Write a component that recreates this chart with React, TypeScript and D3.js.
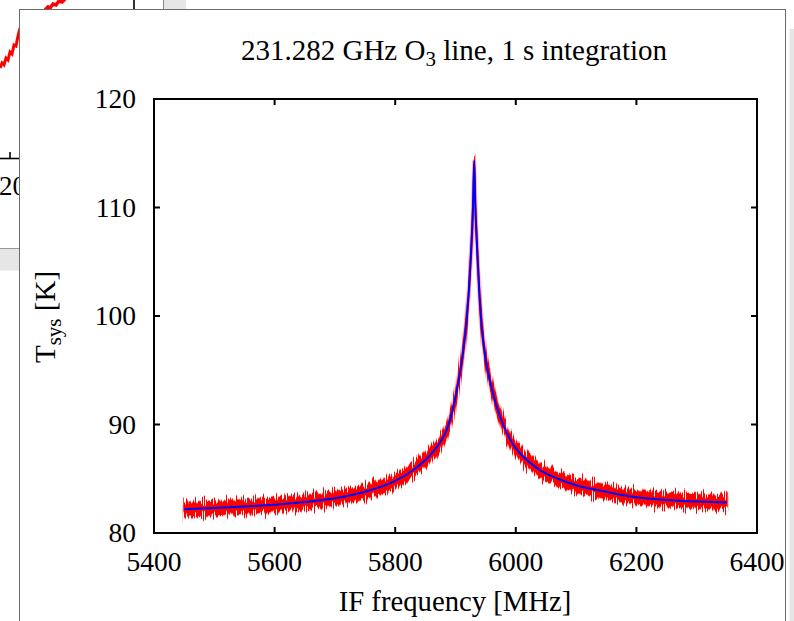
import React from 'react';
import * as d3 from 'd3';

// ---- data ----
const freqMHz = [5450, 5500, 5550, 5600, 5650, 5700, 5750, 5800, 5830, 5855, 5875, 5886, 5896, 5905, 5912, 5919, 5925, 5929, 5931, 5933, 5937, 5942, 5950, 5959, 5968, 5979, 5995, 6013, 6040, 6070, 6100, 6150, 6200, 6250, 6300, 6350];
const fitK = [82.2, 82.3, 82.45, 82.6, 82.85, 83.2, 83.8, 84.8, 85.8, 87.0, 88.4, 89.6, 91.5, 94.0, 96.5, 100.0, 105.0, 110.0, 114.3, 110.0, 105.0, 100.0, 96.0, 93.6, 91.7, 90.0, 88.2, 87.0, 85.8, 85.0, 84.4, 83.8, 83.3, 83.05, 82.9, 82.8];
const noiseHiK = [82.8, 82.9, 83.05, 83.2, 83.45, 83.8, 84.4, 85.4, 86.4, 87.6, 89.0, 90.2, 92.1, 94.6, 97.1, 100.6, 105.6, 110.6, 114.6, 110.6, 105.6, 100.6, 96.6, 94.2, 92.3, 90.6, 88.8, 87.6, 86.4, 85.6, 85.0, 84.4, 83.9, 83.65, 83.5, 83.4];
const noiseLoK = [81.6, 81.7, 81.85, 82.0, 82.25, 82.6, 83.2, 84.2, 85.2, 86.4, 87.8, 89.0, 90.9, 93.4, 95.9, 99.4, 104.4, 109.4, 114.0, 109.4, 104.4, 99.4, 95.4, 93.0, 91.1, 89.4, 87.6, 86.4, 85.2, 84.4, 83.8, 83.2, 82.7, 82.45, 82.3, 82.2];
const xTicks = [5400, 5600, 5800, 6000, 6200, 6400];
const yTicks = [80, 90, 100, 110, 120];

// background window's line (partly hidden behind the front panel)
const bgLineA: [number, number][] = [[0, 68], [2, 63], [4, 65], [6, 58], [8, 60], [10, 52], [12, 54], [14, 45], [16, 46], [18, 36], [20, 28]];
const bgLineB: [number, number][] = [[45, 10], [48, 7], [50, 8], [53, 4], [56, 5], [59, 1], [62, 2], [66, -2]];

const FONT = "'Liberation Serif', 'DejaVu Serif', serif";

export default function App() {
  const W = 794, H = 621;
  const x = d3.scaleLinear().domain([5400, 6400]).range([154, 757]);
  const y = d3.scaleLinear().domain([80, 120]).range([533, 99]);
  const [x0, x1] = x.range();
  const [y0, y1] = y.range();

  const idx = d3.range(freqMHz.length);
  const band = d3.area<number>()
    .x(i => x(freqMHz[i]))
    .y0(i => y(noiseLoK[i]))
    .y1(i => y(noiseHiK[i]))
    .curve(d3.curveMonotoneX);
  const fitLine = d3.line<number>()
    .x(i => x(freqMHz[i]))
    .y(i => y(fitK[i]))
    .curve(d3.curveMonotoneX);
  const bgLine = d3.line();
  const bandPath = band(idx) || '';

  const tickLen = 6;

  return (
    <svg width={W} height={H} style={{ position: 'fixed', left: 0, top: 0, background: '#fff' }} fontFamily={FONT}>
      <defs>
        <filter id="jitter" filterUnits="userSpaceOnUse" x={0} y={60} width={W} height={520} colorInterpolationFilters="sRGB">
          <feTurbulence type="fractalNoise" baseFrequency="0.9 0.004" numOctaves={2} seed={3} result="n" />
          <feColorMatrix in="n" type="matrix" values="1 0 0 0 0  0 0 0 0 0.5  0 0 0 0 0  0 0 0 0 1" result="n2" />
          <feDisplacementMap in="SourceGraphic" in2="n2" scale={22} xChannelSelector="G" yChannelSelector="R" />
        </filter>
        <mask id="outerMask" maskUnits="userSpaceOnUse" x={0} y={0} width={W} height={H}>
          <path d={bandPath} fill="#fff" stroke="#fff" strokeWidth={3.5} filter="url(#jitter)" />
        </mask>
        <mask id="innerMask" maskUnits="userSpaceOnUse" x={0} y={0} width={W} height={H}>
          <path d={bandPath} fill="#fff" stroke="#fff" strokeWidth={1.5} filter="url(#jitter)" />
        </mask>
        <clipPath id="plotClip"><rect x={x0} y={y1} width={x1 - x0} height={y0 - y1} /></clipPath>
      </defs>

      {/* background window remnants */}
      <rect x={163} y={0} width={23} height={9} fill="#e6e6e6" />
      <line x1={163.5} y1={0} x2={163.5} y2={9} stroke="#8a8a8a" strokeWidth={1} />
      <line x1={134} y1={0} x2={134} y2={9} stroke="#000" strokeWidth={1.6} />
      <path d={bgLine(bgLineA) || ''} fill="none" stroke="#ff0000" strokeWidth={3} />
      <path d={bgLine(bgLineB) || ''} fill="none" stroke="#ff0000" strokeWidth={3.5} />
      <line x1={0} y1={158.5} x2={20} y2={158.5} stroke="#000" strokeWidth={1.6} />
      <line x1={10} y1={152} x2={10} y2={158.5} stroke="#000" strokeWidth={1.6} />
      <text x={-1} y={195} fontSize={27}>200</text>
      <rect x={0} y={248.5} width={20} height={22} fill="#e6e6e6" />
      <line x1={0} y1={248.5} x2={20} y2={248.5} stroke="#9a9a9a" strokeWidth={1} />
      <rect x={789.5} y={29} width={6} height={600} fill="#e6e6e6" />

      {/* front panel */}
      <rect x={19.5} y={9.5} width={766} height={640} fill="#fff" stroke="#6a6a6a" strokeWidth={1} />

      {/* title */}
      <text x={454} y={60} fontSize={29} textAnchor="middle">
        231.282 GHz O<tspan fontSize={21} dy={6}>3</tspan><tspan dy={-6}> line, 1 s integration</tspan>
      </text>

      {/* data */}
      <g clipPath="url(#plotClip)">
        <rect x={x0} y={y1} width={x1 - x0} height={y0 - y1} fill="#ffa8a8" mask="url(#outerMask)" />
        <rect x={x0} y={y1} width={x1 - x0} height={y0 - y1} fill="#ff0000" mask="url(#innerMask)" />
        <path d={fitLine(idx) || ''} fill="none" stroke="#0000ff" strokeWidth={2} />
      </g>

      {/* frame */}
      <rect x={x0} y={y1} width={x1 - x0} height={y0 - y1} fill="none" stroke="#000" strokeWidth={2} />

      {/* ticks */}
      {xTicks.map(t => (
        <g key={'xt' + t}>
          <line x1={x(t)} y1={y0} x2={x(t)} y2={y0 - tickLen} stroke="#000" strokeWidth={2} />
          <line x1={x(t)} y1={y1} x2={x(t)} y2={y1 + tickLen} stroke="#000" strokeWidth={2} />
          <text x={x(t)} y={571} fontSize={27.5} textAnchor="middle">{t}</text>
        </g>
      ))}
      {yTicks.map(t => (
        <g key={'yt' + t}>
          <line x1={x0} y1={y(t)} x2={x0 + tickLen} y2={y(t)} stroke="#000" strokeWidth={2} />
          <line x1={x1} y1={y(t)} x2={x1 - tickLen} y2={y(t)} stroke="#000" strokeWidth={2} />
          <text x={136} y={y(t) + 9} fontSize={27.5} textAnchor="end">{t}</text>
        </g>
      ))}

      {/* axis labels */}
      <text x={455} y={611} fontSize={28.7} textAnchor="middle">IF frequency [MHz]</text>
      <text transform="translate(55,317) rotate(-90)" fontSize={29} textAnchor="middle">
        T<tspan fontSize={21} dy={6}>sys</tspan><tspan dy={-6}> [K]</tspan>
      </text>
    </svg>
  );
}
